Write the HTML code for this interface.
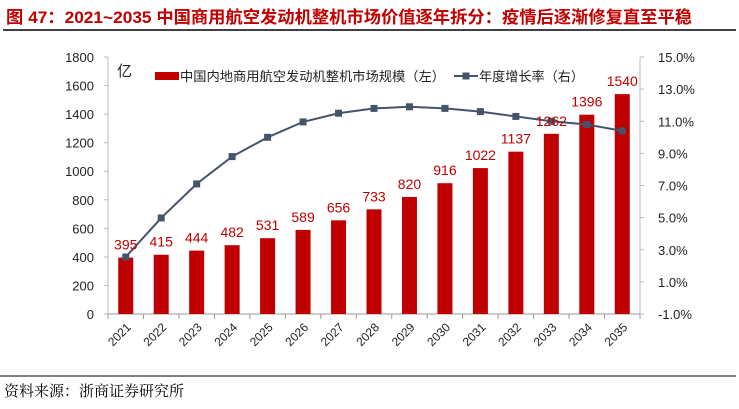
<!DOCTYPE html>
<html><head><meta charset="utf-8"><style>
body{margin:0;background:#fff;width:739px;height:404px;overflow:hidden;font-family:"Liberation Sans","Noto Sans CJK SC",sans-serif}
</style></head><body>
<svg width="739" height="404" xmlns="http://www.w3.org/2000/svg" font-family="Liberation Sans, Noto Sans CJK SC, sans-serif">
<text x="6" y="23" font-size="17" font-weight="bold" fill="#c00000" textLength="686" lengthAdjust="spacingAndGlyphs">图 47：2021~2035 中国商用航空发动机整机市场价值逐年拆分：疫情后逐渐修复直至平稳</text>
<line x1="3" y1="30" x2="736" y2="30" stroke="#000" stroke-width="1.5"/>
<line x1="0" y1="376" x2="736" y2="376" stroke="#000" stroke-width="1"/>
<text x="4" y="396" font-size="15" fill="#000" font-family="Noto Serif CJK SC, serif">资料来源：浙商证券研究所</text>
<g id="chart"></g>
</svg>
<script>
const years=["2021","2022","2023","2024","2025","2026","2027","2028","2029","2030","2031","2032","2033","2034","2035"];
const market=[395,415,444,482,531,589,656,733,820,916,1022,1137,1262,1396,1540];
const growth=[2.55,4.98,7.1,8.8,10.0,10.96,11.5,11.8,11.9,11.8,11.6,11.3,11.0,10.8,10.4];
const leftTicks=[0,200,400,600,800,1000,1200,1400,1600,1800];
const rightTicks=[-1,1,3,5,7,9,11,13,15];
const NS="http://www.w3.org/2000/svg";
const g=document.getElementById('chart');
const x0=108,x1=640,yb=314,yt=57;
const yL=v=>yb-(v/1800)*(yb-yt);
const yR=v=>yb-((v+1)/16)*(yb-yt);
const step=(x1-x0)/years.length;
const xc=i=>x0+step*(i+0.5);
function el(t,a,txt){const e=document.createElementNS(NS,t);for(const k in a)e.setAttribute(k,a[k]);if(txt!==undefined)e.textContent=txt;g.appendChild(e);return e;}
let ax=el('line',{x1:x0,y1:yb,x2:x1,y2:yb,stroke:'#999'});


let la=el('line',{x1:x0,y1:yt,x2:x0,y2:yb,stroke:'#bbb'});


let ra=el('line',{x1:x1,y1:yt,x2:x1,y2:yb,stroke:'#bbb'});


leftTicks.forEach(v=>{
 const t=el('text',{x:x0-14,y:yL(v)+5,'font-size':13,'text-anchor':'end',fill:'#222'},String(v));
 
 
 el('line',{x1:x0-4,y1:yL(v),x2:x0,y2:yL(v),stroke:'#bbb'});
});
rightTicks.forEach(v=>{
 const t=el('text',{x:x1+18,y:yR(v)+5,'font-size':13,fill:'#222'},v.toFixed(1)+'%');
 
 
 el('line',{x1:x1,y1:yR(v),x2:x1+4,y2:yR(v),stroke:'#bbb'});
});
for(let i=0;i<=years.length;i++){el('line',{x1:x0+step*i,y1:yb,x2:x0+step*i,y2:yb+5,stroke:'#999'});}
years.forEach((y,i)=>{
 const t=el('text',{x:xc(i)+6,y:yb+14,'font-size':12,'text-anchor':'end',fill:'#222',transform:`rotate(-45 ${xc(i)+6} ${yb+14})`},y);
 
 
});
market.forEach((v,i)=>{
 const b=el('rect',{x:xc(i)-7.5,y:yL(v),width:15,height:yb-yL(v),fill:'#c00000'});
 
 
});
const pts=growth.map((v,i)=>xc(i)+','+yR(v)).join(' ');
const pl=el('polyline',{points:pts,fill:'none',stroke:'#44546a','stroke-width':2});


growth.forEach((v,i)=>{
 const m=el('rect',{x:xc(i)-3.5,y:yR(v)-3.5,width:7,height:7,fill:'#44546a'});
 
 
});
market.forEach((v,i)=>{
 const t=el('text',{x:xc(i),y:yL(v)-8,'font-size':14,'text-anchor':'middle',fill:'#c00000'},String(v));
 
 
});
const u=el('text',{x:117,y:76,'font-size':15,fill:'#222'},'亿');


const ls=el('rect',{x:155,y:72,width:24,height:8,fill:'#c00000'});


const lt=el('text',{x:180,y:81,'font-size':13,fill:'#222',textLength:265,lengthAdjust:'spacingAndGlyphs'},'中国内地商用航空发动机整机市场规模（左）');


el('line',{x1:454,y1:76,x2:478,y2:76,stroke:'#44546a','stroke-width':2});
const lm=el('rect',{x:462.5,y:72.5,width:7,height:7,fill:'#44546a'});


const lt2=el('text',{x:479,y:81,'font-size':13,fill:'#222',textLength:105,lengthAdjust:'spacingAndGlyphs'},'年度增长率（右）');


</script>
</body></html>
